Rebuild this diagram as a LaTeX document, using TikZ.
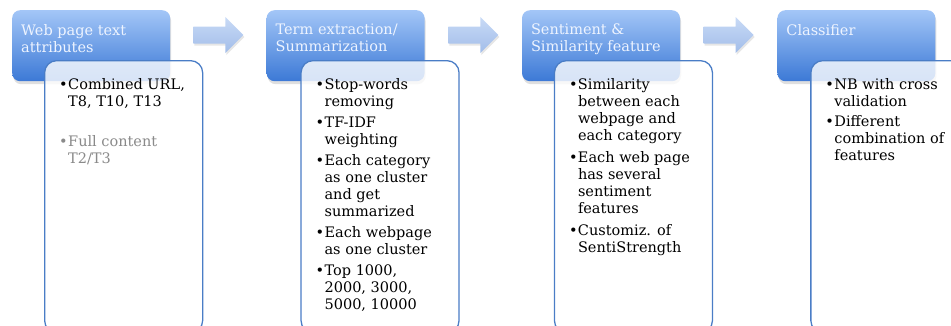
\documentclass[tikz,border=0pt]{standalone}
\usepackage{fontspec}
\setmainfont{DejaVu Serif}
\usetikzlibrary{positioning,calc,shadows}

\definecolor{headtop}{HTML}{A3C6F7}
\definecolor{headbot}{HTML}{3C79D6}
\definecolor{flowtop}{HTML}{C8DAF6}
\definecolor{flowbot}{HTML}{A2BDE9}
\definecolor{frameblue}{HTML}{4A7DC6}
\definecolor{greytext}{HTML}{8A8A8A}
\definecolor{headtext}{HTML}{EEF4FF}

\newcommand{\itm}[1]{\makebox[9pt][l]{\textbullet}#1}
\newcommand{\cnt}[1]{\hspace*{9pt}#1}

\begin{document}
\begin{tikzpicture}[
    x=1pt, y=-1pt,
    font=\fontsize{14.5}{17}\selectfont,
    stage/.style={rounded corners=8pt, minimum width=158pt, minimum height=71pt, inner sep=0pt, anchor=north west, top color=headtop, bottom color=headbot, drop shadow={shadow xshift=1pt, shadow yshift=-3pt, opacity=0.25}},
    stagetext/.style={anchor=north west, inner sep=0pt, align=left, text=headtext},
    detail/.style={draw=frameblue, line width=1.3pt, rounded corners=12pt, fill=white, fill opacity=0.8, minimum width=158pt, minimum height=272pt, inner sep=0pt, anchor=north west},
    detailtext/.style={anchor=north west, inner sep=0pt, align=left, text=black},
    flow/.style={top color=flowtop, bottom color=flowbot, drop shadow={shadow xshift=1pt, shadow yshift=-2pt, opacity=0.2}}
]
    \useasboundingbox (0,0) rectangle (951,325);
    \clip (0,0) rectangle (951,325);

    % headers
    \node[stage] (h1) at (12,10) {};
    \node[stage, right=96pt of h1] (h2) {};
    \node[stage, right=97pt of h2] (h3) {};
    \node[stage, right=97pt of h3] (h4) {};

    \node[stagetext] (h1t) at ([shift={(9,14)}]h1.north west) {Web page text\\attributes};
    \node[stagetext] (h2t) at ([shift={(9,14)}]h2.north west) {Term extraction/\\Summarization};
    \node[stagetext] (h3t) at ([shift={(9,14)}]h3.north west) {Sentiment \&\\Similarity feature};
    \node[stagetext] (h4t) at ([shift={(9,14)}]h4.north west) {Classifier};

    % block arrows between stages
    \foreach \a/\b in {h1/h2,h2/h3,h3/h4}{
        \coordinate (m) at ($(\a.north east)!0.5!(\b.north west)+(0,25)$);
        \path[flow] ([shift={(-25,-8.5)}]m) -- ([shift={(7,-8.5)}]m) -- ([shift={(7,-18)}]m)
            -- ([shift={(25,0)}]m) -- ([shift={(7,18)}]m) -- ([shift={(7,8.5)}]m)
            -- ([shift={(-25,8.5)}]m) -- cycle;
    }

    % detail boxes
    \node[detail] (b1) at ([shift={(32,50)}]h1.north west) {};
    \node[detail] (b2) at ([shift={(34,50)}]h2.north west) {};
    \node[detail] (b3) at ([shift={(32,50)}]h3.north west) {};
    \node[detail] (b4) at ([shift={(33,50)}]h4.north west) {};

    \node[detailtext] (t1) at ([shift={(15,18)}]b1.north west)
        {\itm{Combined URL,}\\ \cnt{T8, T10, T13}\\[23pt]
         {\color{greytext}\itm{Full content}}\\ {\color{greytext}\cnt{T2/T3}}};
    \node[detailtext] (t2) at ([shift={(15,18)}]b2.north west)
        {\itm{Stop-words}\\ \cnt{removing}\\[4pt]
         \itm{TF-IDF}\\ \cnt{weighting}\\[4pt]
         \itm{Each category}\\ \cnt{as one cluster}\\ \cnt{and get}\\ \cnt{summarized}\\[4pt]
         \itm{Each webpage}\\ \cnt{as one cluster}\\[4pt]
         \itm{Top 1000,}\\ \cnt{2000, 3000,}\\ \cnt{5000, 10000}};
    \node[detailtext] (t3) at ([shift={(15,18)}]b3.north west)
        {\itm{Similarity}\\ \cnt{between each}\\ \cnt{webpage and}\\ \cnt{each category}\\[5pt]
         \itm{Each web page}\\ \cnt{has several}\\ \cnt{sentiment}\\ \cnt{features}\\[5pt]
         \itm{Customiz. of}\\ \cnt{SentiStrength}};
    \node[detailtext] (t4) at ([shift={(15,18)}]b4.north west)
        {\itm{NB with cross}\\ \cnt{validation}\\[3pt]
         \itm{Different}\\ \cnt{combination of}\\ \cnt{features}};
\end{tikzpicture}
\end{document}
